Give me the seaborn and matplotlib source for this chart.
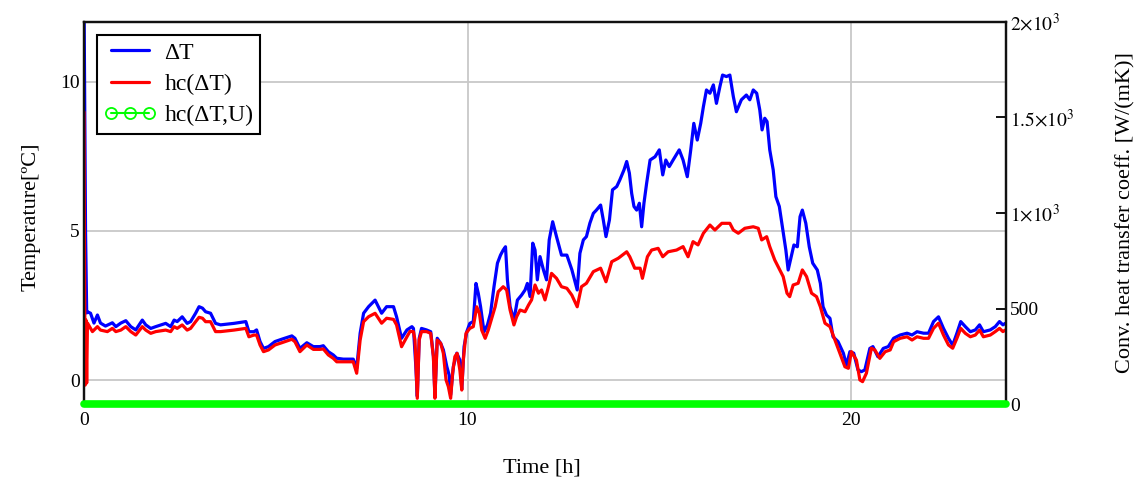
import matplotlib
matplotlib.use("Agg")
import matplotlib.pyplot as plt
from matplotlib.lines import Line2D
from matplotlib.ticker import FixedLocator, FixedFormatter
import pandas as pd
import seaborn as sns

# ---------------- data ----------------
time_dT = [0.00, 0.02, 0.04, 0.07, 0.09, 0.17, 0.26, 0.35, 0.43, 0.56, 0.74, 0.83, 0.96, 1.09,
           1.22, 1.35, 1.52, 1.61, 1.74, 1.87, 2.13, 2.26, 2.35, 2.43, 2.56, 2.69, 2.78, 2.91,
           3.00, 3.09, 3.17, 3.30, 3.43, 3.56, 3.91, 4.22, 4.30, 4.43, 4.50, 4.59, 4.68, 4.81,
           4.98, 5.16, 5.42, 5.50, 5.63, 5.81, 5.98, 6.15, 6.24, 6.37, 6.50, 6.59, 6.76, 7.02,
           7.11, 7.20, 7.29, 7.42, 7.59, 7.76, 7.89, 8.07, 8.15, 8.28, 8.42, 8.55, 8.59, 8.65,
           8.69, 8.74, 8.80, 8.93, 9.04, 9.11, 9.15, 9.21, 9.30, 9.37, 9.46, 9.52, 9.56, 9.63,
           9.72, 9.80, 9.85, 9.91, 9.98, 10.06, 10.15, 10.22, 10.28, 10.34, 10.43, 10.52, 10.60,
           10.69, 10.78, 10.86, 10.93, 10.99, 11.04, 11.11, 11.21, 11.30, 11.41, 11.50, 11.56,
           11.63, 11.70, 11.76, 11.82, 11.89, 11.98, 12.06, 12.13, 12.22, 12.32, 12.45, 12.59,
           12.72, 12.86, 12.93, 13.02, 13.10, 13.19, 13.28, 13.36, 13.47, 13.54, 13.61, 13.70,
           13.78, 13.89, 13.97, 14.08, 14.15, 14.22, 14.28, 14.34, 14.41, 14.48, 14.54, 14.60,
           14.67, 14.76, 14.89, 15.00, 15.09, 15.17, 15.26, 15.36, 15.52, 15.62, 15.73, 15.82,
           15.90, 15.99, 16.08, 16.15, 16.23, 16.32, 16.41, 16.49, 16.58, 16.65, 16.75, 16.84,
           16.93, 17.01, 17.14, 17.27, 17.36, 17.45, 17.54, 17.62, 17.68, 17.75, 17.81, 17.88,
           17.97, 18.04, 18.13, 18.21, 18.30, 18.36, 18.42, 18.51, 18.60, 18.67, 18.73, 18.82,
           18.91, 19.00, 19.12, 19.20, 19.27, 19.36, 19.45, 19.53, 19.66, 19.80, 19.88, 19.97,
           20.07, 20.18, 20.27, 20.36, 20.49, 20.57, 20.70, 20.84, 20.97, 21.11, 21.28, 21.46,
           21.59, 21.72, 21.89, 22.02, 22.15, 22.28, 22.41, 22.54, 22.65, 22.76, 22.86, 22.98,
           23.11, 23.24, 23.35, 23.45, 23.63, 23.76, 23.87, 23.96, 24.02]
dT = [13.0, 8.9, 5.0, 2.25, 2.29, 2.24, 1.91, 2.18, 1.91, 1.81, 1.92, 1.79, 1.91, 1.99,
      1.79, 1.68, 2.01, 1.85, 1.73, 1.79, 1.90, 1.79, 2.01, 1.96, 2.12, 1.90, 1.96, 2.24,
      2.46, 2.41, 2.29, 2.24, 1.90, 1.85, 1.90, 1.96, 1.62, 1.62, 1.68, 1.29, 1.06, 1.12,
      1.29, 1.37, 1.48, 1.40, 1.06, 1.25, 1.12, 1.12, 1.15, 0.95, 0.84, 0.73, 0.70, 0.70,
      0.39, 1.57, 2.24, 2.46, 2.68, 2.24, 2.46, 2.46, 2.12, 1.40, 1.68, 1.79, 1.73, 0.50,
      -0.55, 1.40, 1.73, 1.68, 1.62, 0.80, -0.55, 1.40, 1.23, 1.01, 0.45, 0.17, -0.50, 0.45,
      0.90, 0.67, -0.30, 1.12, 1.62, 1.90, 1.96, 3.24, 2.91, 2.46, 1.62, 1.85, 2.24,
      3.13, 3.92, 4.19, 4.36, 4.47, 3.36, 2.46, 2.01, 2.68, 2.85, 3.02, 3.24,
      2.80, 4.59, 4.36, 3.36, 4.14, 3.69, 3.36, 4.70, 5.31, 4.81, 4.19, 4.19,
      3.70, 3.02, 4.25, 4.70, 4.81, 5.26, 5.59, 5.70, 5.87, 5.37, 4.81, 5.37,
      6.38, 6.49, 6.71, 7.05, 7.33, 6.94, 6.26, 5.82, 5.70, 5.93, 5.14, 5.93,
      6.60, 7.38, 7.49, 7.72, 6.88, 7.38, 7.16, 7.38, 7.72, 7.38, 6.82, 7.72,
      8.61, 8.05, 8.61, 9.17, 9.73, 9.62, 9.90, 9.28, 9.84, 10.23, 10.18, 10.23,
      9.51, 9.00, 9.40, 9.56, 9.40, 9.73, 9.62, 9.06, 8.39, 8.78, 8.67, 7.72,
      7.05, 6.15, 5.82, 5.14, 4.36, 3.69, 4.03, 4.53, 4.47, 5.48, 5.70, 5.26,
      4.47, 3.92, 3.69, 3.24, 2.46, 2.18, 2.07, 1.45, 1.29, 0.90, 0.50, 0.95,
      0.90, 0.34, 0.28, 0.34, 1.06, 1.12, 0.78, 1.06, 1.12, 1.40, 1.51, 1.57,
      1.51, 1.62, 1.57, 1.57, 1.96, 2.12, 1.73, 1.40, 1.17, 1.57, 1.96, 1.79,
      1.62, 1.68, 1.85, 1.62, 1.68, 1.79, 1.96, 1.85, 1.90]

time_hc = [0.00, 0.01, 0.03, 0.05, 0.07, 0.09, 0.22, 0.35, 0.43, 0.61, 0.74, 0.83, 0.96, 1.09,
           1.22, 1.35, 1.52, 1.61, 1.74, 1.87, 2.13, 2.26, 2.35, 2.43, 2.56, 2.69, 2.78, 2.91,
           3.00, 3.09, 3.17, 3.30, 3.43, 3.56, 3.91, 4.22, 4.30, 4.43, 4.50, 4.59, 4.68, 4.81,
           4.98, 5.16, 5.42, 5.50, 5.63, 5.81, 5.98, 6.15, 6.24, 6.37, 6.50, 6.59, 6.76, 7.02,
           7.11, 7.20, 7.29, 7.42, 7.59, 7.76, 7.89, 8.07, 8.15, 8.28, 8.42, 8.50, 8.59, 8.63,
           8.69, 8.74, 8.80, 8.93, 9.04, 9.11, 9.15, 9.21, 9.30, 9.37, 9.44, 9.50, 9.56, 9.61,
           9.67, 9.73, 9.80, 9.85, 9.89, 9.96, 10.06, 10.15, 10.24, 10.31, 10.37, 10.46, 10.54,
           10.63, 10.72, 10.80, 10.93, 11.02, 11.11, 11.21, 11.28, 11.37, 11.50, 11.59, 11.67,
           11.76, 11.85, 11.93, 12.02, 12.11, 12.19, 12.32, 12.45, 12.59, 12.72, 12.86, 12.97,
           13.10, 13.28, 13.47, 13.61, 13.76, 13.93, 14.15, 14.23, 14.36, 14.50, 14.56, 14.69,
           14.80, 14.97, 15.09, 15.23, 15.45, 15.62, 15.75, 15.88, 16.01, 16.15, 16.32, 16.45,
           16.63, 16.84, 16.93, 17.06, 17.23, 17.45, 17.58, 17.67, 17.80, 17.88, 18.01, 18.14,
           18.23, 18.33, 18.40, 18.49, 18.62, 18.73, 18.84, 18.97, 19.10, 19.20, 19.32, 19.45,
           19.58, 19.71, 19.84, 19.93, 20.01, 20.14, 20.23, 20.30, 20.40, 20.53, 20.62, 20.75,
           20.89, 21.02, 21.11, 21.28, 21.46, 21.59, 21.72, 21.89, 22.02, 22.15, 22.28, 22.41,
           22.54, 22.65, 22.76, 22.86, 22.98, 23.11, 23.24, 23.35, 23.45, 23.63, 23.76, 23.87,
           23.96, 24.02]
hc = [1529, 911, 99, 440, 110, 424, 379, 405, 387, 379, 396, 379, 387, 405,
      379, 361, 405, 387, 370, 379, 387, 379, 405, 396, 414, 387, 396, 431,
      454, 449, 431, 431, 379, 379, 387, 396, 352, 361, 361, 309, 274, 283,
      309, 321, 339, 326, 274, 309, 286, 286, 288, 257, 239, 221, 221, 221,
      161, 335, 431, 457, 475, 423, 449, 443, 414, 300, 352, 380, 379, 335,
      30, 335, 379, 379, 370, 248, 30, 335, 318, 265, 126, 91, 30, 161,
      248, 265, 178, 73, 230, 370, 396, 405, 509, 475, 387, 344, 387,
      449, 509, 588, 614, 597, 492, 414, 457, 492, 483, 518, 545,
      623, 580, 597, 545, 614, 684, 658, 614, 606, 570, 509, 614,
      632, 693, 711, 640, 745, 763, 797, 771, 711, 711, 658, 771,
      806, 815, 771, 797, 806, 824, 771, 850, 833, 894, 937, 911,
      946, 946, 911, 894, 920, 928, 920, 859, 876, 824, 754, 702,
      667, 580, 562, 623, 632, 702, 667, 580, 562, 509, 423, 405,
      335, 265, 195, 187, 274, 230, 126, 117, 161, 292, 283, 239,
      274, 283, 326, 344, 352, 335, 352, 344, 344, 396, 423, 361,
      309, 292, 344, 396, 370, 352, 361, 387, 352, 361, 379, 396,
      379, 387]

time_hcU = [0.0, 24.04]
hcU = [0.0, 0.0]

x_ticks = [0, 10, 20]
left_ticks = [0, 5, 10]
right_ticks = [0, 500, 1000, 1500, 2000]
right_tick_labels = ["0", "500", r"$1{\times}10^{3}$", r"$1.5{\times}10^{3}$", r"$2{\times}10^{3}$"]
series_labels = ["ΔT", "hc(ΔT)", "hc(ΔT,U)"]

# ---------------- style ----------------
sns.set_theme(style="white")
plt.rcParams["font.family"] = ["Liberation Serif", "DejaVu Serif"]
plt.rcParams["mathtext.fontset"] = "stix"
plt.rcParams["text.color"] = "black"
plt.rcParams["axes.labelcolor"] = "black"
plt.rcParams["xtick.color"] = "black"
plt.rcParams["ytick.color"] = "black"

W, H = 1142, 486
fig = plt.figure(figsize=(W / 100, H / 100), dpi=100)
ax = fig.add_axes([84 / W, 1 - 404 / H, 922 / W, 382 / H])
ax2 = ax.twinx()

blue, red, green = "#0000ff", "#ff0000", "#00ff00"

df_dT = pd.DataFrame({"t": time_dT, "v": dT})
df_hc = pd.DataFrame({"t": time_hc, "v": hc})
df_hcU = pd.DataFrame({"t": time_hcU, "v": hcU})

sns.lineplot(data=df_dT, x="t", y="v", ax=ax, color=blue, lw=2.3,
             sort=False, estimator=None)
sns.lineplot(data=df_hc, x="t", y="v", ax=ax2, color=red, lw=2.3,
             sort=False, estimator=None)
sns.lineplot(data=df_hcU, x="t", y="v", ax=ax2, color=green, lw=5.5,
             sort=False, estimator=None, clip_on=False, zorder=5)

ax.set_xlim(0, 24.04)
ax.set_ylim(-0.805, 12.01)
ax2.set_ylim(0, 2000)

ax.xaxis.set_major_locator(FixedLocator(x_ticks))
ax.yaxis.set_major_locator(FixedLocator(left_ticks))
ax2.yaxis.set_major_locator(FixedLocator(right_ticks))
ax2.yaxis.set_major_formatter(FixedFormatter(right_tick_labels))

ax.grid(True, color="#c8c8c8", lw=1.3)
ax.set_axisbelow(True)

ax.tick_params(axis="both", length=0, labelsize=14)
ax.tick_params(axis="y", pad=3)
ax.tick_params(axis="x", pad=6)
ax2.tick_params(axis="y", direction="in", length=7, width=1.3, color="black",
                labelsize=14, pad=3)

for a in (ax, ax2):
    for s in a.spines.values():
        s.set_color("#111111")
        s.set_linewidth(1.6)

ax.set_xlabel("Time [h]", fontsize=16, va="center")
ax.xaxis.set_label_coords(0.497, (404 - 468) / 382)
ax.set_ylabel("Temperature[ºC]", fontsize=16, va="center", ha="center")
ax.yaxis.set_label_coords((31 - 84) / 922, 0.49)
ax2.set_xlabel("")
ax2.set_ylabel("Conv. heat transfer coeff. [W/(mK)]", fontsize=16,
               va="center", ha="center", rotation=90)
ax2.yaxis.set_label_coords((1126 - 84) / 922, 0.5)

handles = [
    Line2D([], [], color=blue, lw=2.3),
    Line2D([], [], color=red, lw=2.3),
    Line2D([], [], color=green, lw=1.5, marker="o", mfc="none", mec=green,
           ms=8, mew=1.3),
]
leg = ax2.legend(handles, series_labels, loc="upper left",
                 bbox_to_anchor=(13 / 922, (404 - 35) / 382),
                 frameon=True, fancybox=False, edgecolor="black", framealpha=1,
                 fontsize=17, numpoints=3, handlelength=2.2, borderaxespad=0,
                 borderpad=0.3, labelspacing=0.42, handletextpad=0.35)
leg.get_frame().set_linewidth(1.5)
leg._legend_box.align = "left"

fig.savefig("out.png", dpi=100)
